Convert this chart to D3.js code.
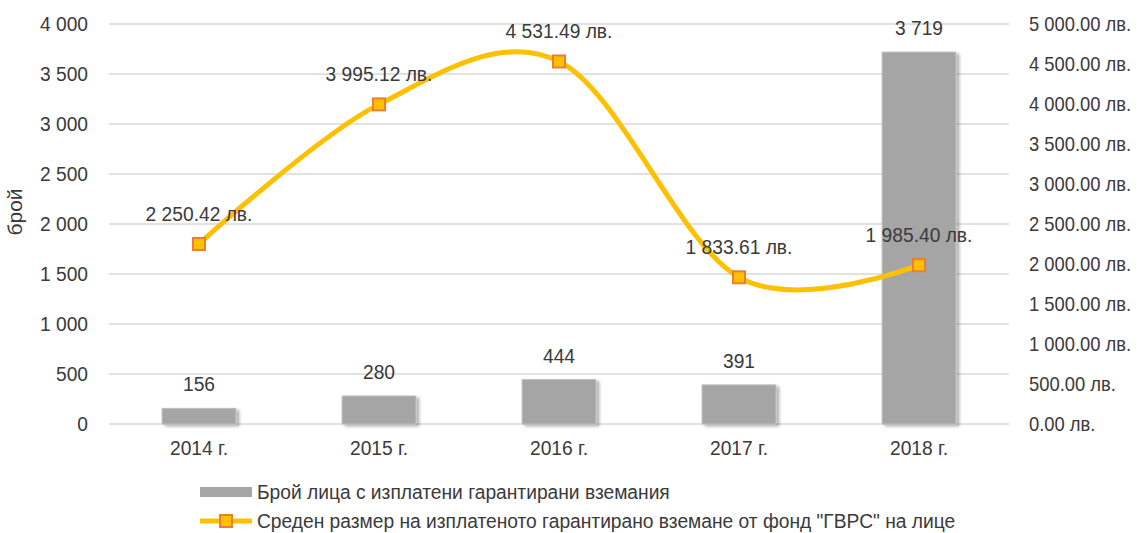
<!DOCTYPE html>
<html>
<head>
<meta charset="utf-8">
<script src="https://cdn.jsdelivr.net/npm/d3@7"></script>
<style>
  html, body { margin: 0; padding: 0; background: #fff; }
  svg { display: block; }
  text { font-family: "Liberation Sans", Arial, sans-serif; fill: #3a3a3a; }
</style>
</head>
<body>
<svg id="chart" width="1139" height="533"></svg>
<script>
// Years shown on the category axis
const categories = ["2014 г.", "2015 г.", "2016 г.", "2017 г.", "2018 г."];
// Number of people with paid guaranteed receivables (left axis)
const peopleCount = [156, 280, 444, 391, 3719];
// Average paid amount per person, in leva (right axis)
const avgAmount = [2250.42, 3995.12, 4531.49, 1833.61, 1985.40];
// Axis ticks
const leftTicks = [0, 500, 1000, 1500, 2000, 2500, 3000, 3500, 4000];
const rightTicks = [0, 500, 1000, 1500, 2000, 2500, 3000, 3500, 4000, 4500, 5000];
// Legend entries
const seriesNames = [
  "Брой лица с изплатени гарантирани вземания",
  "Среден размер на изплатеното гарантирано вземане от фонд \"ГВРС\" на лице"
];
const axisTitle = "брой";

const svg = d3.select("#chart");
const plot = { left: 109, right: 1009, top: 24, bottom: 424 };
const fontSize = 21;
const narrow = 0.915;      // horizontal squeeze for a condensed look
const narrowRight = 0.875; // right-axis labels sit close to the edge

const loc = d3.formatLocale({ decimal: ".", thousands: " ", grouping: [3], currency: ["", ""] });
const fmtInt = loc.format(",d");
const fmtLev = v => loc.format(",.2f")(v) + " лв.";

const x = d3.scaleBand().domain(categories).range([plot.left, plot.right]).paddingInner(0.59).paddingOuter(0.295);
const yL = d3.scaleLinear().domain([0, 4000]).range([plot.bottom, plot.top]);
const yR = d3.scaleLinear().domain([0, 5000]).range([plot.bottom, plot.top]);
const cx = c => x(c) + x.bandwidth() / 2;

// Shadow used by the bars
const defs = svg.append("defs");
const f = defs.append("filter").attr("id", "barShadow").attr("x", "-20%").attr("y", "-20%").attr("width", "150%").attr("height", "150%");
f.append("feDropShadow").attr("dx", 3).attr("dy", 2).attr("stdDeviation", 1.8).attr("flood-color", "#000").attr("flood-opacity", 0.3);

// Horizontal gridlines
svg.append("g").selectAll("line").data(leftTicks).join("line")
  .attr("x1", plot.left).attr("x2", plot.right)
  .attr("y1", d => yL(d)).attr("y2", d => yL(d))
  .attr("stroke", "#d9d9d9").attr("stroke-width", 1.5);

// Left axis
const leftAxis = d3.axisLeft(yL).tickValues(leftTicks).tickSize(0).tickPadding(21).tickFormat(fmtInt);
const gL = svg.append("g").attr("transform", `translate(${plot.left},0)`).call(leftAxis);
gL.select(".domain").remove();

// Right axis
const rightAxis = d3.axisRight(yR).tickValues(rightTicks).tickSize(0).tickPadding(20).tickFormat(fmtLev);
const gR = svg.append("g").attr("transform", `translate(${plot.right},0)`).call(rightAxis);
gR.select(".domain").remove();

// Category axis
const bottomAxis = d3.axisBottom(x).tickSize(0).tickPadding(16);
const gB = svg.append("g").attr("transform", `translate(0,${plot.bottom})`).call(bottomAxis);
gB.select(".domain").remove();

[gL, gR, gB].forEach(g => {
  g.attr("font-family", null).attr("font-size", null);
  g.selectAll("text").attr("font-size", fontSize).attr("fill", "#3a3a3a");
});
gR.selectAll("text").classed("right-label", true);

// Axis title
svg.append("text")
  .attr("class", "axis-title")
  .attr("transform", `translate(22,212) rotate(-90)`)
  .attr("text-anchor", "middle").attr("font-size", fontSize)
  .text(axisTitle);

// Bars
svg.append("g").selectAll("rect").data(peopleCount).join("rect")
  .attr("x", (d, i) => x(categories[i]))
  .attr("y", d => yL(d))
  .attr("width", x.bandwidth())
  .attr("height", d => yL(0) - yL(d))
  .attr("fill", "#a5a5a5").attr("stroke", "#bdbdbd").attr("stroke-width", 1)
  .attr("filter", "url(#barShadow)");

// Bar value labels
svg.append("g").selectAll("text").data(peopleCount).join("text")
  .attr("x", (d, i) => cx(categories[i]))
  .attr("y", d => yL(d) - 17)
  .attr("text-anchor", "middle").attr("font-size", fontSize)
  .text(d => fmtInt(d));

// Smoothed average-amount line
const line = d3.line()
  .x((d, i) => cx(categories[i]))
  .y(d => yR(d))
  .curve(d3.curveCardinal.tension(0));
svg.append("path").datum(avgAmount)
  .attr("d", line).attr("fill", "none")
  .attr("stroke", "#ffc000").attr("stroke-width", 5).attr("stroke-linecap", "round");

// Markers
const ms = 12;
svg.append("g").selectAll("rect").data(avgAmount).join("rect")
  .attr("x", (d, i) => cx(categories[i]) - ms / 2)
  .attr("y", d => yR(d) - ms / 2)
  .attr("width", ms).attr("height", ms)
  .attr("fill", "#ffc000").attr("stroke", "#ed7d31").attr("stroke-width", 2);

// Line value labels
svg.append("g").selectAll("text").data(avgAmount).join("text")
  .attr("x", (d, i) => cx(categories[i]))
  .attr("y", d => yR(d) - 23)
  .attr("text-anchor", "middle").attr("font-size", fontSize)
  .text(d => fmtLev(d));

// Legend
const lg = svg.append("g");
lg.append("rect").attr("x", 200).attr("y", 487).attr("width", 52).attr("height", 10).attr("fill", "#a5a5a5");
lg.append("text").attr("x", 257).attr("y", 499).attr("font-size", fontSize).text(seriesNames[0]);
lg.append("line").attr("x1", 200).attr("x2", 252).attr("y1", 521).attr("y2", 521)
  .attr("stroke", "#ffc000").attr("stroke-width", 5);
lg.append("rect").attr("x", 220).attr("y", 515).attr("width", 12).attr("height", 12)
  .attr("fill", "#ffc000").attr("stroke", "#ed7d31").attr("stroke-width", 2);
lg.append("text").attr("x", 257).attr("y", 528).attr("font-size", fontSize).text(seriesNames[1]);

// Condense every label horizontally around its anchor point
svg.selectAll("text").each(function () {
  const t = d3.select(this);
  if (t.classed("axis-title")) return;
  const k = t.classed("right-label") ? narrowRight : narrow;
  const ax = +this.getAttribute("x") || 0;
  t.attr("transform", `translate(${ax},0) scale(${k},1) translate(${-ax},0)`);
});
</script>
</body>
</html>
